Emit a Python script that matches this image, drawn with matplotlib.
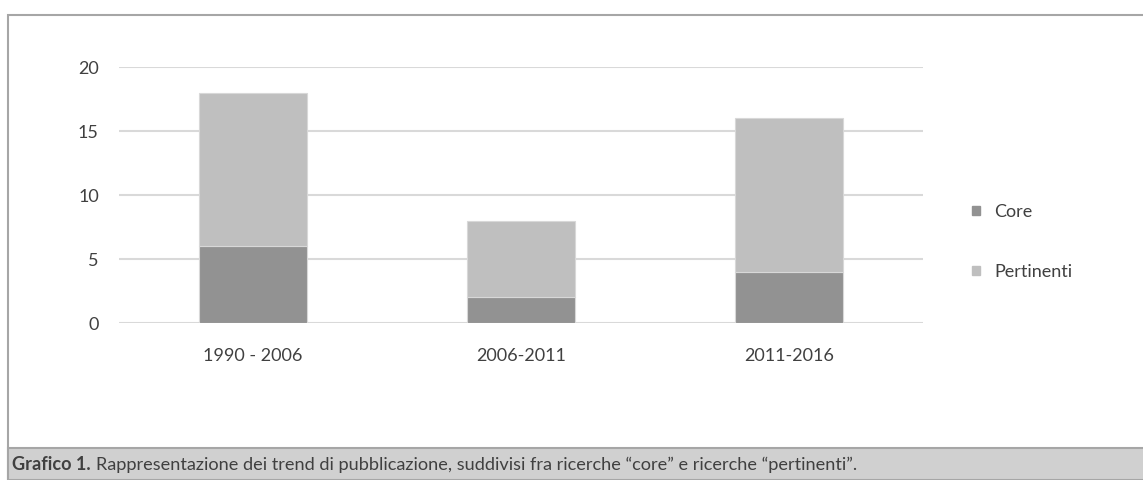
import matplotlib.pyplot as plt
from matplotlib.patches import Patch, Rectangle

periodi = ['1990 - 2006', '2006-2011', '2011-2016']
core = [6, 2, 4]
pertinenti = [12, 6, 12]
yticks = [0, 5, 10, 15, 20]

COL_CORE = '#929292'
COL_PERT = '#bfbfbf'
TXT = '#404040'

W, H = 1143, 480
fig = plt.figure(figsize=(W / 100, H / 100), dpi=100)
plt.rcParams['font.family'] = ['Lato', 'DejaVu Sans']

# cornice e banda della didascalia
fig.patches.append(Rectangle((8 / W, 0), 1, (480 - 15) / H, transform=fig.transFigure,
                             facecolor='white', edgecolor='#a6a6a6', lw=1.5, zorder=-1))
fig.patches.append(Rectangle((8 / W, 0), 1, (480 - 448) / H, transform=fig.transFigure,
                             facecolor='#d0d0d0', edgecolor='#a6a6a6', lw=1.5, zorder=1))

ax = fig.add_axes([119 / W, (480 - 323) / H, 804 / W, 256 / H])
x = list(range(len(periodi)))
ax.bar(x, core, width=0.4, color=COL_CORE, edgecolor='#d8d8d8', linewidth=0.8, zorder=3)
ax.bar(x, pertinenti, bottom=core, width=0.4, color=COL_PERT, edgecolor='#d8d8d8',
       linewidth=0.8, zorder=3)

ax.set_xlim(-0.5, 2.5)
ax.set_ylim(0, 20)
ax.set_yticks(yticks)
ax.set_xticks(x)
ax.set_xticklabels(periodi)
ax.grid(axis='y', color='#d9d9d9', linewidth=1.5, zorder=0)
for s in ax.spines.values():
    s.set_visible(False)
ax.tick_params(length=0, labelsize=13, colors=TXT)
ax.tick_params(axis='y', pad=14.5)
ax.tick_params(axis='x', pad=18)
ax.patch.set_alpha(0)

handles = [Patch(color=COL_CORE), Patch(color=COL_PERT)]
fig.legend(handles, ['Core', 'Pertinenti'], loc='center left',
           bbox_to_anchor=(956 / W, 1 - 242 / H), frameon=False,
           handlelength=0.42, handleheight=0.42, handletextpad=0.8,
           labelspacing=2.45, fontsize=13, labelcolor=TXT)

# didascalia
fig.canvas.draw()
t1 = fig.text(12 / W, 1 - 465 / H, 'Grafico 1.', fontsize=13.1, fontweight='bold',
              color=TXT, va='center')
bb = t1.get_window_extent(fig.canvas.get_renderer())
fig.text(bb.x1 / W + 5 / W, 1 - 465 / H,
         'Rappresentazione dei trend di pubblicazione, suddivisi fra ricerche “core” '
         'e ricerche “pertinenti”.', fontsize=13.1, color=TXT, va='center')

plt.savefig('out.png', dpi=100)
